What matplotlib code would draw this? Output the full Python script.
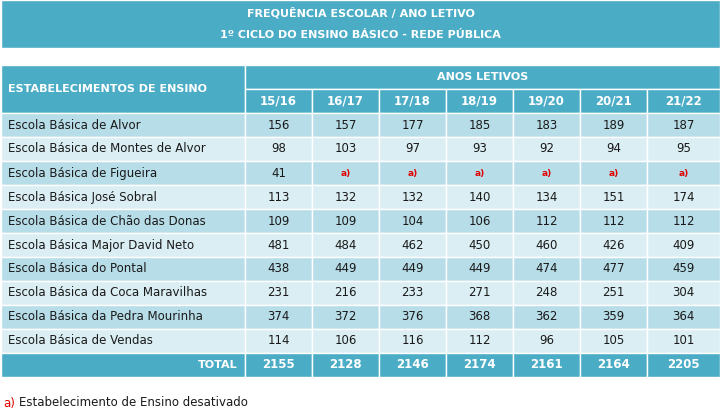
import matplotlib
matplotlib.use("Agg")
import matplotlib.pyplot as plt
from matplotlib.patches import Rectangle

title1 = "FREQUÊNCIA ESCOLAR / ANO LETIVO"
title2 = "1º CICLO DO ENSINO BÁSICO - REDE PÚBLICA"
years = ["15/16", "16/17", "17/18", "18/19", "19/20", "20/21", "21/22"]
schools = ["Escola Básica de Alvor", "Escola Básica de Montes de Alvor",
           "Escola Básica de Figueira", "Escola Básica José Sobral",
           "Escola Básica de Chão das Donas", "Escola Básica Major David Neto",
           "Escola Básica do Pontal", "Escola Básica da Coca Maravilhas",
           "Escola Básica da Pedra Mourinha", "Escola Básica de Vendas"]
values = [
    [156, 157, 177, 185, 183, 189, 187],
    [98, 103, 97, 93, 92, 94, 95],
    [41, "a)", "a)", "a)", "a)", "a)", "a)"],
    [113, 132, 132, 140, 134, 151, 174],
    [109, 109, 104, 106, 112, 112, 112],
    [481, 484, 462, 450, 460, 426, 409],
    [438, 449, 449, 449, 474, 477, 459],
    [231, 216, 233, 271, 248, 251, 304],
    [374, 372, 376, 368, 362, 359, 364],
    [114, 106, 116, 112, 96, 105, 101],
]
totals = [2155, 2128, 2146, 2174, 2161, 2164, 2205]

W, H = 721, 412
fig = plt.figure(figsize=(W/100, H/100), dpi=100)
ax = fig.add_axes([0, 0, 1, 1])
ax.set_xlim(0, W); ax.set_ylim(H, 0); ax.axis("off")

HDR = "#4bacc6"; DARK = "#b7dde8"; LIGHT = "#daeef3"; TXT = "#1a1a1a"
F = "Verdana" if False else "DejaVu Sans"

def rect(x0, y0, x1, y1, c):
    ax.add_patch(Rectangle((x0, y0), x1-x0, y1-y0, facecolor=c, edgecolor="white", lw=1))

rect(1, 0, 720, 48, HDR)
ax.text(W/2, 13, title1, color="white", fontsize=8, fontweight="bold", ha="center", va="center", family=F)
ax.text(W/2, 35, title2, color="white", fontsize=8, fontweight="bold", ha="center", va="center", family=F)

xs = [1, 245, 312, 379, 446, 513, 580, 647, 720]
rect(1, 65, 245, 113, HDR)
ax.text(8, 89, "ESTABELECIMENTOS DE ENSINO", color="white", fontsize=8, fontweight="bold", va="center", family=F)
rect(245, 65, 720, 89, HDR)
ax.text((245+720)/2, 77, "ANOS LETIVOS", color="white", fontsize=8, fontweight="bold", ha="center", va="center", family=F)
for i, y in enumerate(years):
    rect(xs[i+1], 89, xs[i+2], 113, HDR)
    ax.text((xs[i+1]+xs[i+2])/2, 101, y, color="white", fontsize=8.5, fontweight="bold", ha="center", va="center", family=F)

rh = 24
for r, (s, vals) in enumerate(zip(schools, values)):
    y0 = 113 + r*rh
    c = DARK if r % 2 == 0 else LIGHT
    for j in range(8):
        rect(xs[j], y0, xs[j+1], y0+rh, c)
    ax.text(8, y0+rh/2, s, fontsize=8.5, va="center", color=TXT, family=F)
    for j, v in enumerate(vals):
        xc = (xs[j+1]+xs[j+2])/2
        if v == "a)":
            ax.text(xc, y0+rh/2, "a)", fontsize=6.5, fontweight="bold", color="#e00000", ha="center", va="center", family=F)
        else:
            ax.text(xc, y0+rh/2, str(v), fontsize=8.5, ha="center", va="center", color=TXT, family=F)

y0 = 113 + 10*rh
for j in range(8):
    rect(xs[j], y0, xs[j+1], y0+rh, HDR)
ax.text(237, y0+rh/2, "TOTAL", color="white", fontsize=8, fontweight="bold", ha="right", va="center", family=F)
for j, t in enumerate(totals):
    ax.text((xs[j+1]+xs[j+2])/2, y0+rh/2, str(t), color="white", fontsize=8.5, fontweight="bold", ha="center", va="center", family=F)

ax.text(3, 403, "a)", color="#e00000", fontsize=8.5, va="center", family=F)
ax.text(19, 403, "Estabelecimento de Ensino desativado", color=TXT, fontsize=8.5, va="center", family=F)

fig.savefig("out.png", dpi=100)
